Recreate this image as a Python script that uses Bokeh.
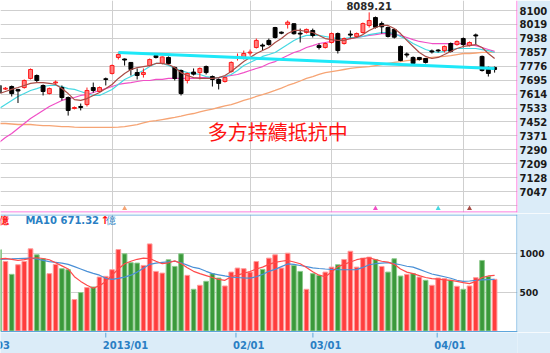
from bokeh.plotting import figure
from bokeh.layouts import column
from bokeh.models import Range1d, FixedTicker, Span
from bokeh.core.properties import value
from bokeh.embed import file_html
from bokeh.resources import INLINE

# ---------------- data ----------------
days = list(range(80))
opens = [7664, 7643, 7658, 7640, 7652, 7705, 7722, 7664, 7617, 7679,
         7652, 7594, 7530, 7542, 7553, 7652, 7629, 7703, 7734, 7827,
         7818, 7798, 7739, 7728, 7780, 7838, 7792, 7827, 7769, 7751,
         7693, 7742, 7739, 7774, 7716, 7699, 7687, 7745, 7827, 7827,
         7853, 7885, 7899, 7926, 8001, 7974, 8019, 8023, 7968, 7972,
         7984, 7896, 7885, 7914, 7966, 7908, 7963, 7949, 7972, 8013,
         8059, 8024, 8001, 7990, 7891, 7847, 7827, 7827, 7821, 7865,
         7870, 7867, 7908, 7902, 7937, 7896, 7958, 7833, 7769, 7769]
highs = [7670, 7655, 7664, 7645, 7699, 7763, 7728, 7670, 7652, 7693,
         7664, 7600, 7542, 7559, 7652, 7681, 7658, 7710, 7786, 7856,
         7821, 7798, 7763, 7763, 7821, 7850, 7833, 7833, 7774, 7757,
         7739, 7763, 7769, 7780, 7722, 7705, 7716, 7804, 7850, 7867,
         7873, 7937, 7908, 7937, 8005, 7978, 8042, 8025, 7995, 7995,
         7995, 7908, 7914, 7972, 7972, 7943, 7984, 7972, 8030, 8089.21,
         8065, 8036, 8007, 7995, 7896, 7856, 7833, 7830, 7824, 7873,
         7875, 7896, 7914, 7926, 7943, 7920, 7966, 7838, 7774, 7774]
lows = [7610, 7638, 7600, 7562, 7646, 7699, 7681, 7606, 7612, 7670,
        7577, 7489, 7525, 7519, 7542, 7623, 7623, 7664, 7728, 7815,
        7780, 7722, 7699, 7710, 7774, 7821, 7786, 7786, 7693, 7606,
        7676, 7722, 7699, 7728, 7658, 7641, 7681, 7739, 7809, 7815,
        7838, 7879, 7867, 7896, 7937, 7962, 7995, 7960, 7914, 7966,
        7943, 7873, 7879, 7908, 7850, 7902, 7943, 7943, 7966, 8001,
        7995, 7966, 7943, 7937, 7805, 7827, 7786, 7809, 7792, 7850,
        7856, 7856, 7856, 7896, 7885, 7891, 7902, 7745, 7716, 7739]
closes = [7620, 7648, 7617, 7632, 7693, 7757, 7693, 7629, 7646, 7684,
          7594, 7519, 7536, 7536, 7635, 7635, 7652, 7699, 7780, 7844,
          7812, 7757, 7722, 7739, 7815, 7827, 7830, 7792, 7705, 7617,
          7734, 7730, 7763, 7739, 7699, 7676, 7710, 7798, 7833, 7850,
          7858, 7926, 7893, 7902, 7943, 7968, 8032, 7965, 7963, 7990,
          7955, 7885, 7908, 7966, 7867, 7937, 7957, 7966, 8024, 8042,
          8003, 8005, 7949, 7945, 7809, 7841, 7792, 7815, 7798, 7859,
          7865, 7891, 7862, 7920, 7902, 7914, 7952, 7751, 7734, 7757]
ma5 = [7617, 7629, 7641, 7652, 7664, 7676, 7681, 7681, 7676, 7670,
       7646, 7617, 7582, 7577, 7588, 7606, 7623, 7646, 7670, 7705,
       7734, 7757, 7768, 7774, 7780, 7792, 7792, 7786, 7768, 7739,
       7722, 7710, 7705, 7705, 7705, 7710, 7722, 7745, 7774, 7803,
       7827, 7850, 7867, 7885, 7914, 7937, 7966, 7984, 7984, 7978,
       7972, 7955, 7937, 7931, 7926, 7926, 7937, 7943, 7960, 7984,
       8001, 8013, 8013, 7995, 7966, 7926, 7891, 7856, 7833, 7821,
       7827, 7844, 7862, 7879, 7891, 7896, 7902, 7885, 7850, 7821]
ma10 = [7530, 7553, 7577, 7600, 7617, 7635, 7646, 7658, 7664, 7664,
        7658, 7646, 7641, 7629, 7617, 7606, 7606, 7623, 7641, 7670,
        7699, 7716, 7734, 7751, 7774, 7792, 7792, 7780, 7763, 7751,
        7739, 7734, 7728, 7716, 7710, 7710, 7716, 7728, 7751, 7780,
        7798, 7815, 7833, 7844, 7856, 7879, 7902, 7926, 7943, 7955,
        7955, 7955, 7949, 7943, 7937, 7937, 7943, 7943, 7949, 7960,
        7966, 7972, 7972, 7966, 7949, 7931, 7908, 7891, 7873, 7862,
        7856, 7862, 7873, 7879, 7879, 7879, 7879, 7873, 7867, 7856]
ma20 = [7333, 7362, 7385, 7414, 7443, 7472, 7495, 7519, 7542, 7559,
        7577, 7588, 7594, 7606, 7611, 7623, 7635, 7646, 7658, 7670,
        7676, 7681, 7687, 7693, 7693, 7699, 7699, 7705, 7705, 7705,
        7705, 7705, 7710, 7710, 7710, 7710, 7716, 7722, 7728, 7739,
        7751, 7763, 7774, 7792, 7803, 7821, 7838, 7856, 7867, 7885,
        7896, 7908, 7914, 7920, 7926, 7931, 7937, 7943, 7949, 7955,
        7960, 7966, 7966, 7960, 7955, 7943, 7931, 7920, 7914, 7908,
        7908, 7908, 7908, 7908, 7908, 7902, 7896, 7885, 7873, 7862]
ma60 = [7443, 7443, 7440, 7437, 7437, 7437, 7434, 7431, 7431, 7428,
        7425, 7425, 7422, 7420, 7420, 7420, 7420, 7420, 7420, 7422,
        7425, 7431, 7437, 7446, 7455, 7460, 7466, 7472, 7478, 7486,
        7495, 7501, 7510, 7519, 7527, 7536, 7545, 7553, 7565, 7577,
        7588, 7600, 7611, 7623, 7635, 7649, 7664, 7676, 7690, 7705,
        7716, 7728, 7739, 7745, 7751, 7757, 7763, 7768, 7771, 7774,
        7780, 7786, 7792, 7798, 7803, 7809, 7812, 7815, 7821, 7827,
        7830, 7833, 7838, 7844, 7850, 7850, 7853, 7856, 7856, 7856]
volume = [1047, 897, 731, 855, 897, 1060, 983, 932, 740, 859,
          804, 791, 406, 496, 560, 568, 696, 705, 791, 1051,
          996, 881, 876, 846, 1124, 769, 747, 919, 833, 996,
          718, 538, 590, 641, 740, 683, 581, 760, 812, 804,
          760, 897, 795, 940, 983, 812, 1004, 846, 769, 538,
          740, 718, 760, 824, 855, 923, 1029, 824, 940, 953,
          923, 833, 760, 932, 709, 731, 740, 696, 654, 590,
          683, 676, 654, 577, 538, 581, 688, 910, 705, 667]
vol_up = [0, 1, 0, 1, 1, 1, 0, 0, 1, 1, 0, 0, 1, 0, 1, 0, 1, 1, 1, 1,
          0, 0, 0, 1, 1, 1, 1, 0, 0, 0, 1, 0, 1, 0, 0, 0, 1, 1, 1, 1,
          1, 1, 0, 1, 1, 1, 1, 0, 0, 1, 0, 0, 1, 1, 0, 1, 1, 1, 1, 1,
          0, 1, 0, 0, 0, 1, 0, 1, 0, 1, 1, 1, 0, 1, 0, 1, 1, 0, 0, 1]
vol_ma5 = [930, 936, 925, 912, 920, 935, 945, 935, 919, 880,
           840, 800, 700, 640, 590, 552, 585, 640, 720, 800,
           868, 900, 925, 940, 935, 900, 868, 880, 905, 870,
           815, 770, 740, 715, 690, 665, 654, 700, 720, 745,
           768, 800, 824, 860, 885, 900, 910, 890, 868, 820,
           765, 720, 700, 760, 830, 860, 890, 920, 935, 945,
           920, 900, 888, 860, 800, 760, 740, 715, 690, 676,
           670, 660, 654, 640, 625, 612, 640, 690, 710, 718]
vol_ma10 = [923, 926, 930, 935, 938, 940, 930, 910, 895, 885,
            875, 860, 830, 800, 770, 744, 720, 680, 667, 680,
            696, 720, 760, 810, 860, 876, 885, 893, 900, 880,
            850, 820, 804, 770, 740, 725, 710, 696, 690, 685,
            683, 700, 730, 770, 795, 830, 865, 860, 845, 830,
            815, 806, 800, 795, 792, 790, 790, 791, 820, 855,
            868, 875, 881, 870, 855, 835, 824, 795, 765, 735,
            718, 700, 680, 655, 641, 645, 652, 660, 664, 667]
trend_x = [19, 79]
trend_y = [7856, 7763]
price_ticks = [7047, 7128, 7209, 7290, 7371, 7452, 7533, 7614, 7695, 7776,
               7857, 7938, 8019, 8100]
price_grid = [6966] + price_ticks
vol_ticks = [500, 1000]
date_pos = [-3, 18, 40, 53, 74]
date_labels = ["12/03", "2013/01", "02/01", "03/01", "04/01"]
signal_x = [20, 60, 70, 75]
high_label = "8089.21"
note_text = "多方持續抵抗中"
vol_ma5_label = "MA5 710.06億"
vol_ma10_label = "MA10 671.32"

N = len(days)
for arr in (opens, highs, lows, closes, ma5, ma10, ma20, ma60, volume,
            vol_up, vol_ma5, vol_ma10):
    assert len(arr) == N

# ---------------- layout constants ----------------
PX = 6.2955          # pixels per trading day
X0 = 0.21
FRAME_W = 519
def px_x(px):
    return X0 + px / PX

BG = "#dbecf8"
GRID = "#cfcfcf"
PINK = "#ff5ad6"
BOXBLUE = "#5ea6dc"
DATEBLUE = "#2a7fc4"
FONT = "DejaVu Sans"

xr = Range1d(X0, X0 + FRAME_W / PX)

# ---------------- price panel ----------------
P_TOP, P_BOT, P_H = 8158.2, 6925.4, 212
p_scale = (P_TOP - P_BOT) / P_H
p = figure(width=550, height=213, x_range=xr, y_range=Range1d(P_BOT, P_TOP),
           x_axis_location=None, y_axis_location="right",
           output_backend="svg", toolbar_location=None,
           min_border_left=0, min_border_right=31, min_border_top=0,
           min_border_bottom=1, background_fill_color="white",
           border_fill_color=BG, outline_line_color=None)
ax = p.yaxis[0]
ax.ticker = FixedTicker(ticks=price_ticks)
ax.major_tick_out = 0
ax.major_tick_in = 0
ax.minor_tick_out = 0
ax.minor_tick_in = 0
ax.axis_line_color = None
ax.major_label_standoff = 2
ax.major_label_text_font = FONT
ax.major_label_text_font_size = "10px"
ax.major_label_text_font_style = "bold"
ax.major_label_text_color = "#1a1a1a"
p.ygrid.ticker = FixedTicker(ticks=price_grid)
p.ygrid.grid_line_color = GRID
p.xgrid.ticker = FixedTicker(ticks=date_pos)
p.xgrid.grid_line_color = GRID

up = [c >= o for o, c in zip(opens, closes)]
body_top = [max(o, c) for o, c in zip(opens, closes)]
body_bot = [min(o, c) for o, c in zip(opens, closes)]
c_fill = ["#ff7c7c" if u else "#000000" for u in up]
c_line = ["#ff1a1a" if u else "#000000" for u in up]

p.line(days, ma60, line_color="#f6a474", line_width=1.3)
p.line(days, ma20, line_color="#f04ec6", line_width=1.2)
p.line(days, ma10, line_color="#45d8e2", line_width=1.2)
p.segment(days, lows, days, highs, line_color=c_line, line_width=1)
p.vbar(x=days, width=0.62, top=body_top, bottom=body_bot,
       fill_color=c_fill, line_color=c_line, line_width=1)
p.line(days, ma5, line_color="#a84c46", line_width=1.2)
p.line(trend_x, trend_y, line_color="#1ee8f8", line_width=3)

p.scatter(signal_x, [P_BOT + 4 * p_scale] * len(signal_x), marker="triangle",
          size=5, fill_color=["#f6a474", "#f04ec6", "#45d8e2", "#a84c46"],
          line_color=None)

hi_i = highs.index(max(highs))
p.text(x=[hi_i], y=[highs[hi_i]], text=[high_label], text_align="center",
       text_baseline="middle", y_offset=-6, text_font=value(FONT),
       text_font_size="10px", text_font_style="bold", text_color="#2a2a2a")
p.text(x=[px_x(208)], y=[P_TOP - 131 * p_scale], text=[note_text],
       text_align="left", text_baseline="middle",
       text_font=value("Noto Sans CJK TC"), text_font_size="20px",
       text_color="#ff1212")

p.add_layout(Span(location=xr.end - 0.5 / PX, dimension="height",
                  line_color=PINK, line_width=1))
p.add_layout(Span(location=P_BOT + 0.5 * p_scale, dimension="width",
                  line_color=PINK, line_width=1))

# ---------------- volume panel ----------------
V_BOT, V_TOP, V_H = -19.4, 1503.0, 118
v_scale = (V_TOP - V_BOT) / V_H
v = figure(width=550, height=119, x_range=xr, y_range=Range1d(V_BOT, V_TOP),
           x_axis_location=None, y_axis_location="right",
           output_backend="svg", toolbar_location=None,
           min_border_left=0, min_border_right=31, min_border_top=1,
           min_border_bottom=0, background_fill_color="white",
           border_fill_color=BG, outline_line_color=None)
vax = v.yaxis[0]
vax.ticker = FixedTicker(ticks=vol_ticks)
vax.major_tick_out = 0
vax.major_tick_in = 0
vax.minor_tick_out = 0
vax.minor_tick_in = 0
vax.axis_line_color = None
vax.major_label_standoff = 2
vax.major_label_text_font = FONT
vax.major_label_text_font_size = "9px"
vax.major_label_text_font_style = "bold"
vax.major_label_text_color = "#1a1a1a"
v.ygrid.ticker = FixedTicker(ticks=vol_ticks)
v.ygrid.grid_line_color = GRID
v.xgrid.ticker = FixedTicker(ticks=date_pos)
v.xgrid.grid_line_color = GRID

v_fill = ["#ff3d3d" if u else "#3b993b" for u in vol_up]
v_line = ["#ff9c9c" if u else "#8cca8c" for u in vol_up]
v.vbar(x=days, width=0.74, top=volume, bottom=0, fill_color=v_fill,
       line_color=v_line, line_width=1)
v.line(days, vol_ma10, line_color="#4a90d6", line_width=1.2)
v.line(days, vol_ma5, line_color="#ff4a4a", line_width=1.2)

head_y = (330.5 - 220) * v_scale
v.text(x=[px_x(9)], y=[head_y], text=[vol_ma5_label], text_align="right",
       text_baseline="middle", text_font=value(FONT), text_font_size="10px",
       text_font_style="bold", text_color="#ff2020")
v.text(x=[px_x(25)], y=[head_y], text=[vol_ma10_label], text_align="left",
       text_baseline="middle", text_font=value(FONT), text_font_size="10px",
       text_font_style="bold", text_color="#2a7fc4")
v.text(x=[px_x(100.5)], y=[head_y], text=["↑"], text_align="left",
       text_baseline="middle", text_font=value(FONT), text_font_size="11px",
       text_font_style="bold", text_color="#ff1010")
v.text(x=[px_x(106)], y=[head_y], text=["億"], text_align="left",
       text_baseline="middle", text_font=value(FONT), text_font_size="10px",
       text_color="#2a7fc4")

v.add_layout(Span(location=xr.end - 0.5 / PX, dimension="height",
                  line_color=BOXBLUE, line_width=1))
v.add_layout(Span(location=V_TOP - 0.5 * v_scale, dimension="width",
                  line_color=BOXBLUE, line_width=1))
v.add_layout(Span(location=V_BOT + 0.7 * v_scale, dimension="width",
                  line_color=BOXBLUE, line_width=1.5))

# ---------------- date strip ----------------
s = figure(width=550, height=21, x_range=Range1d(X0, X0 + 550 / PX),
           y_range=Range1d(21, 0), x_axis_location=None, y_axis_location=None,
           output_backend="svg", toolbar_location=None, min_border=0,
           background_fill_color=BG, border_fill_color=BG,
           outline_line_color=None)
s.xgrid.visible = False
s.ygrid.visible = False
n = len(date_pos)
s.segment(date_pos, [0] * n, date_pos, [5] * n, line_color=BOXBLUE, line_width=1)
s.text(x=date_pos, y=[13] * n, text=date_labels, x_offset=-3,
       text_align="left", text_baseline="middle", text_font=value(FONT),
       text_font_size="10px", text_font_style="bold", text_color=DATEBLUE)

layout = column(p, v, s, spacing=0)
open("out.html", "w").write(file_html(layout, INLINE))
